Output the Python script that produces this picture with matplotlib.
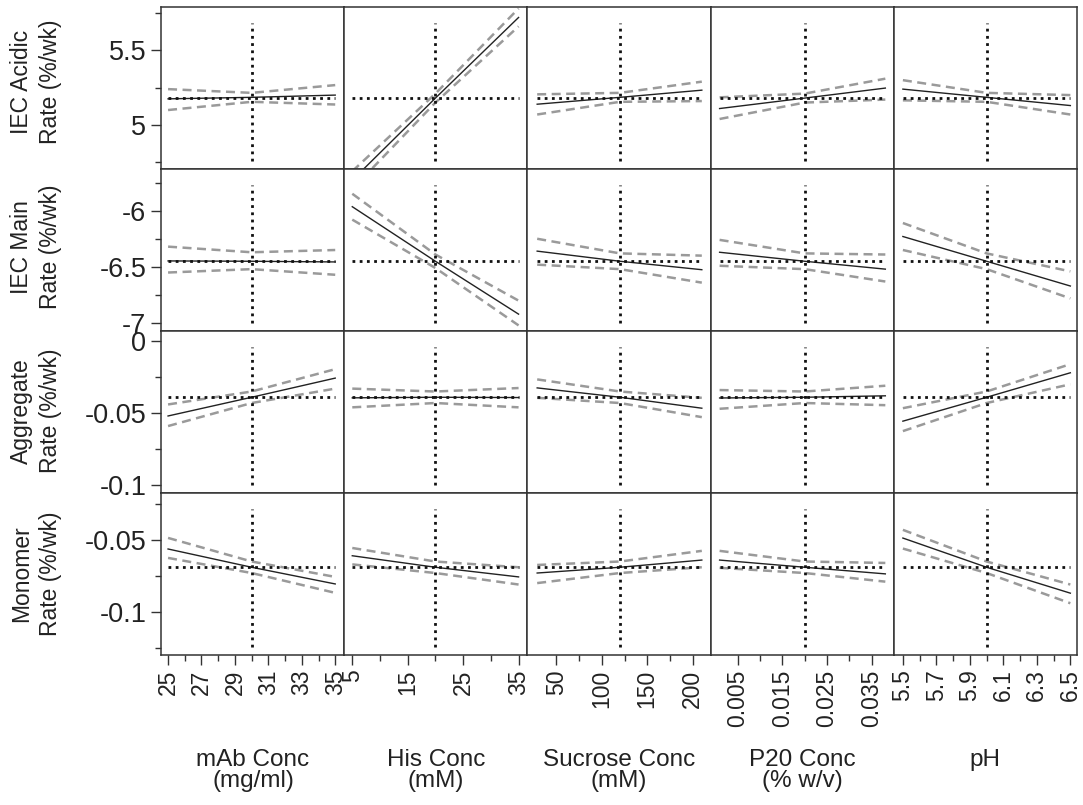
import matplotlib
matplotlib.use("Agg")
import matplotlib.pyplot as plt

plt.rcParams['font.family'] = ['Liberation Sans', 'DejaVu Sans']
plt.rcParams['axes.unicode_minus'] = False

# factors (columns)
factor_labels = ["mAb Conc\n(mg/ml)", "His Conc\n(mM)", "Sucrose Conc\n(mM)",
                 "P20 Conc\n(% w/v)", "pH"]
x_lo = [25, 5, 29, 0.001, 5.5]
x_cur = [30, 20, 120, 0.02, 6.0]
x_hi = [35, 35, 210, 0.038, 6.5]
x_lims = [(24.58, 35.54), (3.55, 36.6), (18.3, 219.7), (-0.001, 0.0399), (5.446, 6.54)]
x_major = [[25, 27, 29, 31, 33, 35], [5, 15, 25, 35], [50, 100, 150, 200],
           [0.005, 0.015, 0.025, 0.035], [5.5, 5.7, 5.9, 6.1, 6.3, 6.5]]
x_major_labels = [["25", "27", "29", "31", "33", "35"], ["5", "15", "25", "35"],
                  ["50", "100", "150", "200"], ["0.005", "0.015", "0.025", "0.035"],
                  ["5.5", "5.7", "5.9", "6.1", "6.3", "6.5"]]
x_minor = [[26, 28, 30, 32, 34], [10, 20, 30], [75, 125, 175],
           [0.01, 0.02, 0.03], [5.6, 5.8, 6.0, 6.2, 6.4]]

# responses (rows)
response_labels = ["IEC Acidic\nRate (%/wk)", "IEC Main\nRate (%/wk)",
                   "Aggregate\nRate (%/wk)", "Monomer\nRate (%/wk)"]
y_cur = [5.18, -6.45, -0.039, -0.069]
y_lims = [(4.705, 5.79), (-7.07, -5.63), (-0.1055, 0.007), (-0.13, -0.0174)]
y_major = [[5, 5.5], [-7, -6.5, -6], [-0.1, -0.05, 0], [-0.1, -0.05]]
y_major_labels = [["5", "5.5"], ["-7", "-6.5", "-6"], ["-0.1", "-0.05", "0"], ["-0.1", "-0.05"]]
y_minor = [[4.75, 5.25, 5.75], [-6.75, -6.25, -5.75], [-0.075, -0.025], [-0.125, -0.075, -0.025]]

# predicted value at [x_lo, x_cur, x_hi] for each row/column
pred = [
    [[5.175, 5.185, 5.20], [4.63, 5.18, 5.72], [5.139, 5.185, 5.233], [5.11, 5.18, 5.247], [5.24, 5.185, 5.13]],
    [[-6.447, -6.45, -6.456], [-5.965, -6.45, -6.92], [-6.36, -6.45, -6.525], [-6.37, -6.45, -6.52], [-6.23, -6.45, -6.67]],
    [[-0.052, -0.039, -0.0257], [-0.0394, -0.039, -0.0392], [-0.0325, -0.039, -0.0466], [-0.0395, -0.039, -0.038], [-0.0556, -0.039, -0.022]],
    [[-0.0563, -0.069, -0.0806], [-0.061, -0.069, -0.0757], [-0.073, -0.069, -0.064], [-0.064, -0.069, -0.0736], [-0.0487, -0.069, -0.087]],
]
# upper confidence limit
upper = [
    [[5.24, 5.215, 5.267], [4.69, 5.21, 5.78], [5.205, 5.215, 5.29], [5.185, 5.21, 5.31], [5.30, 5.215, 5.20]],
    [[-6.32, -6.37, -6.35], [-5.85, -6.39, -6.80], [-6.25, -6.38, -6.40], [-6.26, -6.38, -6.39], [-6.11, -6.38, -6.54]],
    [[-0.044, -0.035, -0.0195], [-0.033, -0.035, -0.0326], [-0.0266, -0.035, -0.0394], [-0.034, -0.035, -0.031], [-0.0466, -0.035, -0.016]],
    [[-0.0486, -0.065, -0.0757], [-0.0556, -0.065, -0.069], [-0.0674, -0.065, -0.0576], [-0.0576, -0.065, -0.066], [-0.043, -0.065, -0.081]],
]
# lower confidence limit
lower = [
    [[5.10, 5.155, 5.137], [4.57, 5.15, 5.66], [5.07, 5.155, 5.16], [5.04, 5.15, 5.17], [5.165, 5.155, 5.07]],
    [[-6.55, -6.52, -6.57], [-6.08, -6.51, -7.02], [-6.48, -6.52, -6.64], [-6.49, -6.52, -6.63], [-6.35, -6.52, -6.78]],
    [[-0.059, -0.043, -0.033], [-0.046, -0.043, -0.046], [-0.0394, -0.043, -0.0528], [-0.047, -0.043, -0.0445], [-0.0625, -0.043, -0.030]],
    [[-0.0625, -0.073, -0.0868], [-0.067, -0.073, -0.081], [-0.080, -0.073, -0.069], [-0.0694, -0.073, -0.079], [-0.056, -0.073, -0.094]],
]

fig, axes = plt.subplots(4, 5, figsize=(10.83, 8.05), dpi=100)
fig.subplots_adjust(left=0.1487, right=0.9945, top=0.9913, bottom=0.1863,
                    wspace=0, hspace=0)

for r in range(4):
    for c in range(5):
        ax = axes[r][c]
        xs = [x_lo[c], x_cur[c], x_hi[c]]
        ax.plot(xs, upper[r][c], color='#9a9a9a', lw=1.8, ls=(0, (3.6, 2.2)))
        ax.plot(xs, lower[r][c], color='#9a9a9a', lw=1.8, ls=(0, (3.6, 2.2)))
        ax.plot(xs, pred[r][c], color='#222222', lw=1.0)
        ax.plot([x_lo[c], x_hi[c]], [y_cur[r], y_cur[r]], color='#111111', lw=2.0,
                ls=(0, (1, 1.6)))
        ax.axvline(x_cur[c], ymin=0.05, ymax=0.9, color='#111111', lw=2.0,
                   ls=(0, (1, 1.6)))
        ax.set_xlim(*x_lims[c])
        ax.set_ylim(*y_lims[r])
        for s in ax.spines.values():
            s.set_color('#333333')
            s.set_linewidth(1.1)
        ax.tick_params(which='both', direction='out', color='#333333', width=1.0,
                       labelcolor='#222222')
        ax.tick_params(which='major', length=7)
        ax.tick_params(which='minor', length=4.5)
        if c == 0:
            ax.set_yticks(y_major[r])
            ax.set_yticklabels(y_major_labels[r], fontsize=19.5)
            ax.set_yticks(y_minor[r], minor=True)
        else:
            ax.set_yticks([])
        if r == 3:
            ax.set_xticks(x_major[c])
            ax.set_xticklabels(x_major_labels[c], fontsize=16.5, rotation=90)
            ax.set_xticks(x_minor[c], minor=True)
        else:
            ax.set_xticks([])

# row labels
row_centers = [82, 247, 411, 574]
for r in range(4):
    fig.text(36 / 1083, 1 - row_centers[r] / 805, response_labels[r], rotation=90,
             ha='center', va='center', fontsize=16.5, linespacing=1.3,
             multialignment='center', color='#222222')

# column labels
col_centers = [253, 436, 619, 802, 985]
for c in range(5):
    fig.text(col_centers[c] / 1083, 1 - 749 / 805, factor_labels[c], ha='center',
             va='top', fontsize=17.5, linespacing=0.95, multialignment='center',
             color='#222222')

fig.savefig("out.png", dpi=100)
